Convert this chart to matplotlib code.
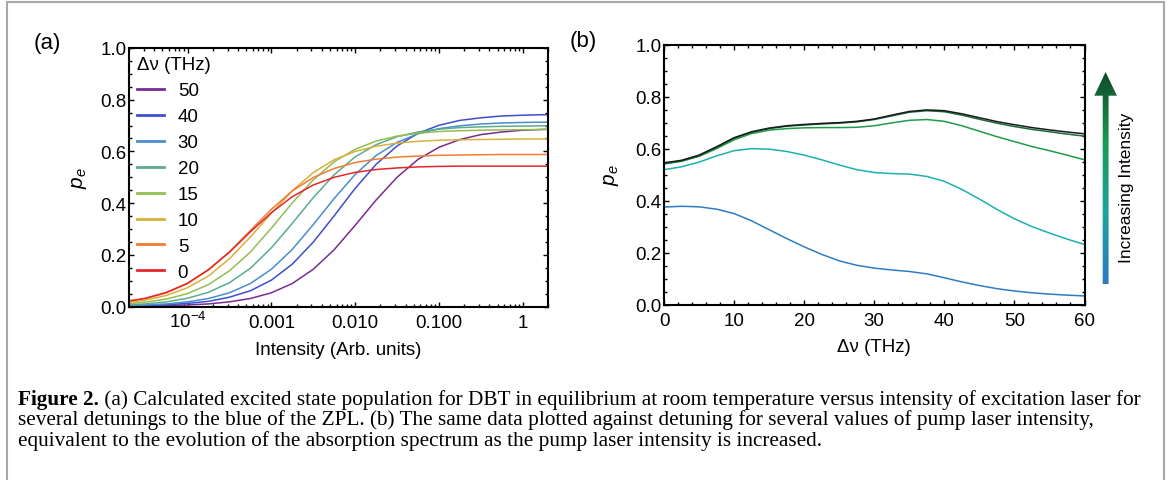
import numpy as np
import matplotlib
matplotlib.use('Agg')
import matplotlib.pyplot as plt
from matplotlib.patches import Polygon
from matplotlib.colors import LinearSegmentedColormap
from matplotlib.ticker import MultipleLocator, LogLocator, NullFormatter, FormatStrFormatter

plt.rcParams['font.family'] = ['Liberation Sans', 'DejaVu Sans']
plt.rcParams['mathtext.fontset'] = 'custom'
plt.rcParams['mathtext.rm'] = 'Liberation Sans'
plt.rcParams['mathtext.it'] = 'Liberation Sans:italic'

# ---- panel (a): p_e vs intensity for several detunings ----
log_intensity = [-4.75, -4.5, -4.25, -4.0, -3.75, -3.5, -3.25, -3.0, -2.75, -2.5, -2.25,
                 -2.0, -1.75, -1.5, -1.25, -1.0, -0.75, -0.5, -0.25, 0.0, 0.25, 0.5]
detunings = ['50', '40', '30', '20', '15', '10', '5', '0']
pe_50 = [0.001, 0.002, 0.003, 0.006, 0.010, 0.018, 0.031, 0.053, 0.089, 0.144, 0.220,
         0.314, 0.412, 0.500, 0.569, 0.616, 0.646, 0.665, 0.675, 0.682, 0.685, 0.687]
pe_40 = [0.002, 0.004, 0.007, 0.012, 0.020, 0.036, 0.061, 0.102, 0.164, 0.249, 0.351,
         0.457, 0.550, 0.621, 0.670, 0.701, 0.720, 0.730, 0.737, 0.740, 0.742, 0.743]
pe_30 = [0.003, 0.006, 0.010, 0.018, 0.031, 0.053, 0.089, 0.144, 0.221, 0.317, 0.418,
         0.511, 0.584, 0.635, 0.668, 0.688, 0.699, 0.706, 0.710, 0.712, 0.713, 0.714]
pe_20 = [0.006, 0.010, 0.018, 0.032, 0.055, 0.092, 0.148, 0.227, 0.322, 0.421, 0.510,
         0.579, 0.626, 0.657, 0.675, 0.686, 0.692, 0.695, 0.697, 0.698, 0.699, 0.700]
pe_15 = [0.0095, 0.017, 0.029, 0.050, 0.085, 0.138, 0.211, 0.303, 0.401, 0.490, 0.560,
         0.608, 0.640, 0.659, 0.670, 0.677, 0.680, 0.682, 0.683, 0.684, 0.685, 0.685]
pe_10 = [0.014, 0.025, 0.043, 0.073, 0.118, 0.185, 0.269, 0.361, 0.448, 0.518, 0.568,
         0.600, 0.620, 0.632, 0.639, 0.643, 0.645, 0.646, 0.647, 0.648, 0.648, 0.648]
pe_5 = [0.018, 0.031, 0.053, 0.089, 0.141, 0.212, 0.294, 0.376, 0.447, 0.499, 0.534,
        0.557, 0.570, 0.578, 0.582, 0.585, 0.586, 0.587, 0.588, 0.588, 0.588, 0.588]
pe_0 = [0.019, 0.032, 0.055, 0.090, 0.143, 0.210, 0.289, 0.363, 0.425, 0.470, 0.500,
        0.519, 0.530, 0.536, 0.540, 0.542, 0.543, 0.543, 0.543, 0.543, 0.543, 0.543]
curves_a = [pe_50, pe_40, pe_30, pe_20, pe_15, pe_10, pe_5, pe_0]
colors_a = ['#7b2c8f', '#3d4fcb', '#4b8dcd', '#5aad8c', '#93be52', '#d8b03c', '#ee7d33', '#e3272b']

# ---- panel (b): p_e vs detuning for several intensities ----
detuning_b = [0, 2.5, 5, 7.5, 10, 12.5, 15, 17.5, 20, 22.5, 25, 27.5, 30, 32.5, 35, 37.5,
              40, 42.5, 45, 47.5, 50, 52.5, 55, 57.5, 60]
int_1 = [0.375, 0.378, 0.376, 0.367, 0.350, 0.322, 0.288, 0.254, 0.222, 0.193, 0.168, 0.151, 0.140,
         0.133, 0.127, 0.118, 0.103, 0.087, 0.073, 0.061, 0.052, 0.045, 0.040, 0.036, 0.033]
int_2 = [0.519, 0.530, 0.548, 0.572, 0.592, 0.600, 0.598, 0.589, 0.575, 0.557, 0.537, 0.519, 0.508,
         0.504, 0.502, 0.493, 0.474, 0.443, 0.406, 0.366, 0.330, 0.300, 0.275, 0.252, 0.231]
int_3 = [0.541, 0.551, 0.570, 0.600, 0.634, 0.658, 0.671, 0.677, 0.680, 0.681, 0.681, 0.682, 0.688,
         0.699, 0.709, 0.712, 0.705, 0.688, 0.667, 0.646, 0.627, 0.608, 0.592, 0.575, 0.557]
int_4 = [0.543, 0.553, 0.573, 0.605, 0.640, 0.663, 0.677, 0.686, 0.691, 0.695, 0.698, 0.703, 0.712,
         0.726, 0.740, 0.746, 0.742, 0.729, 0.713, 0.698, 0.685, 0.674, 0.665, 0.656, 0.648]
int_5 = [0.545, 0.555, 0.575, 0.607, 0.642, 0.665, 0.679, 0.688, 0.693, 0.697, 0.700, 0.705, 0.714,
         0.729, 0.743, 0.749, 0.746, 0.734, 0.719, 0.704, 0.692, 0.681, 0.672, 0.664, 0.657]
curves_b = [int_1, int_2, int_3, int_4, int_5]
colors_b = ['#2d7dc3', '#1cb0b0', '#1e9c48', '#196b3b', '#1a1a1a']

W, H = 1170, 481


def box(l, t, r, b):
    return [l / W, 1 - b / H, (r - l) / W, (b - t) / H]


def style(ax):
    for s in ax.spines.values():
        s.set_linewidth(1.5)
    ax.tick_params(which='both', direction='in', top=True, right=True, width=1.0,
                   labelsize=13.5)
    ax.tick_params(which='major', length=3.6)
    ax.tick_params(which='minor', length=2.0)
    ax.tick_params(axis='y', pad=1.8)
    ax.tick_params(axis='x', pad=14.8)
    ax.set_ylim(0, 1)
    ax.yaxis.set_major_locator(MultipleLocator(0.2))
    ax.yaxis.set_minor_locator(MultipleLocator(0.05))
    ax.yaxis.set_major_formatter(FormatStrFormatter('%.1f'))


fig = plt.figure(figsize=(W / 100, H / 100), dpi=100)

ax1 = fig.add_axes(box(129, 49, 548, 307.5))
intensity = 10.0 ** np.array(log_intensity)
for lab, c, y in zip(detunings, colors_a, curves_a):
    ax1.plot(intensity, y, color=c, lw=1.1, label=lab, solid_joinstyle='round')
ax1.set_xscale('log')
ax1.set_xlim(2e-5, 2)
ax1.set_xticks([1e-4, 1e-3, 1e-2, 1e-1, 1])
ax1.set_xticklabels([r'$10^{-4}$', '0.001', '0.010', '0.100', '1'])
ax1.xaxis.set_minor_locator(LogLocator(base=10, subs=np.arange(2, 10), numticks=20))
ax1.xaxis.set_minor_formatter(NullFormatter())
style(ax1)
ax1.set_xlabel('Intensity (Arb. units)', fontsize=13.5)
ax1.set_ylabel(r'$p_e$', fontsize=15)
ax1.xaxis.set_label_coords(0.5, -0.165)
ax1.xaxis.label.set_va('center')
ax1.yaxis.set_label_coords(-0.117, 0.5)
ax1.yaxis.label.set_va('center')
leg = ax1.legend(title='Δν (THz)', loc='upper left', frameon=False, fontsize=13.5,
                 title_fontsize=13.5, handlelength=1.4, handletextpad=0.75,
                 labelspacing=0.47, borderaxespad=0.25, borderpad=0.2, alignment='left')
for h in leg.legend_handles:
    h.set_linewidth(2.0)

ax2 = fig.add_axes(box(664, 45.7, 1084.5, 305.5))
for c, y in zip(colors_b, curves_b):
    ax2.plot(detuning_b, y, color=c, lw=1.1, solid_joinstyle='round')
ax2.set_xlim(0, 60)
ax2.xaxis.set_major_locator(MultipleLocator(10))
ax2.xaxis.set_minor_locator(MultipleLocator(2))
style(ax2)
ax2.set_xlabel('Δν (THz)', fontsize=13.5)
ax2.set_ylabel(r'$p_e$', fontsize=15)
ax2.xaxis.set_label_coords(0.5, -0.16)
ax2.xaxis.label.set_va('center')
ax2.yaxis.set_label_coords(-0.124, 0.5)
ax2.yaxis.label.set_va('center')

for ax in (ax1, ax2):
    for t in ax.get_xticklabels():
        t.set_va('baseline')

# ---- overlay: frame, panel letters, gradient arrow, caption ----
ov = fig.add_axes([0, 0, 1, 1])
ov.set_xlim(0, W)
ov.set_ylim(H, 0)
ov.axis('off')
ov.set_facecolor('none')

ov.plot([7, 7, 1164, 1164], [H + 5, 3, 3, H + 5], color='#a8a8a8', lw=1.5,
        solid_joinstyle='miter')

ov.text(47, 43, '(a)', fontsize=16, ha='center', va='center')
ov.text(583, 41, '(b)', fontsize=16, ha='center', va='center')

arrow_pts = [(1102.7, 285), (1102.7, 96.7), (1094.3, 96.7), (1105.6, 73),
             (1116.9, 96.7), (1108.6, 96.7), (1108.6, 285)]
arrow = Polygon(arrow_pts, closed=True, facecolor='none', edgecolor='none')
ov.add_patch(arrow)
cmap = LinearSegmentedColormap.from_list(
    'intensity', ['#2b7cc2', '#1ba3a0', '#199b55', '#0f4a2a'])
grad = np.linspace(1, 0, 256)[:, None]
im = ov.imshow(grad, cmap=cmap, extent=(1093, 1118, 285, 73), aspect='auto',
               origin='upper', interpolation='bilinear')
im.set_clip_path(arrow)
ov.set_xlim(0, W)
ov.set_ylim(H, 0)
ov.text(1127, 188, 'Increasing Intensity', fontsize=12.5, rotation=90,
        ha='center', va='center')

cap_rest = (' (a) Calculated excited state population for DBT in equilibrium at room '
            'temperature versus intensity of excitation laser for')
cap_lines = ['several detunings to the blue of the ZPL. (b) The same data plotted against '
             'detuning for several values of pump laser intensity,',
             'equivalent to the evolution of the absorption spectrum as the pump laser '
             'intensity is increased.']
serif = ['Liberation Serif', 'DejaVu Serif']
r = fig.canvas.get_renderer()
fs = 13.0
tb = ov.text(18, 405, 'Figure 2.', fontsize=fs, fontweight='bold', family=serif,
             va='baseline')
tr = ov.text(0, 405, cap_rest, fontsize=fs, family=serif, va='baseline')
wb = tb.get_window_extent(r).width
wr = tr.get_window_extent(r).width
fs = fs * (1137 - 18) / (wb + wr)
tb.set_fontsize(fs)
tr.set_fontsize(fs)
tr.set_x(18 + tb.get_window_extent(r).width)
for i, line in enumerate(cap_lines):
    ov.text(18, 425.5 + 20.5 * i, line, fontsize=fs, family=serif, va='baseline')

fig.savefig('out.png', dpi=100)
